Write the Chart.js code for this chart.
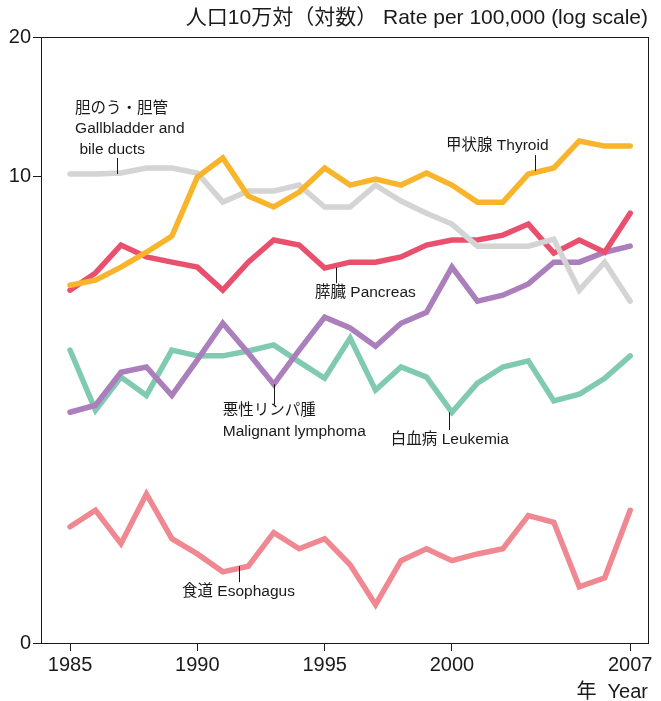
<!DOCTYPE html>
<html>
<head>
<meta charset="utf-8">
<script src="https://cdn.jsdelivr.net/npm/chart.js@4.4.0/dist/chart.umd.min.js"></script>
<style>
  body { margin: 0; background: #fff; }
  #wrap { width: 661px; height: 701px; }
</style>
</head>
<body>
<div id="wrap"><canvas id="myChart" width="661" height="701"></canvas></div>
<script>
// data
var years = [1985, 1986, 1987, 1988, 1989, 1990, 1991, 1992, 1993, 1994, 1995, 1996,
             1997, 1998, 1999, 2000, 2001, 2002, 2003, 2004, 2005, 2006, 2007];

var thyroid = [5.80, 5.95, 6.35, 6.84, 7.41, 9.95, 10.94, 9.05, 8.57, 9.23, 10.41, 9.56,
               9.85, 9.56, 10.15, 9.56, 8.78, 8.78, 10.10, 10.41, 11.91, 11.61, 11.61];
var gallbladder = [10.10, 10.10, 10.15, 10.41, 10.41, 10.15, 8.78, 9.28, 9.28, 9.56, 8.57, 8.57,
                   9.56, 8.83, 8.31, 7.87, 7.05, 7.05, 7.05, 7.30, 5.66, 6.51, 5.36];
var pancreas = [5.66, 6.17, 7.09, 6.68, 6.51, 6.35, 5.66, 6.51, 7.27, 7.09, 6.32, 6.51,
                6.51, 6.68, 7.09, 7.27, 7.27, 7.45, 7.87, 6.81, 7.27, 6.84, 8.31];
var lymphoma = [3.08, 3.19, 3.76, 3.86, 3.35, 4.00, 4.80, 4.14, 3.54, 4.20, 4.95, 4.69,
                4.28, 4.80, 5.07, 6.35, 5.36, 5.52, 5.84, 6.51, 6.51, 6.84, 7.05];
var leukemia = [4.20, 3.11, 3.67, 3.35, 4.20, 4.08, 4.08, 4.18, 4.31, 3.96, 3.65, 4.46,
                3.44, 3.86, 3.67, 3.08, 3.56, 3.86, 3.98, 3.26, 3.37, 3.65, 4.08];
var esophagus = [1.74, 1.89, 1.60, 2.05, 1.64, 1.52, 1.39, 1.43, 1.69, 1.56, 1.64, 1.44,
                 1.18, 1.47, 1.56, 1.47, 1.52, 1.56, 1.84, 1.78, 1.29, 1.35, 1.89];

var xTicks = [1985, 1990, 1995, 2000, 2007];
var yTicks = [0.975, 10, 20];
var yTickLabels = ["0", "10", "20"];

var FONT = "'Liberation Sans', Arial, 'Noto Sans CJK JP', sans-serif";
var INK = "#1a1a1a";

function points(values) {
    var out = [];
    for (var i = 0; i < years.length; i++) {
        out.push({ x: years[i], y: values[i] });
    }
    return out;
}

function series(values, color) {
    return {
        data: points(values),
        borderColor: color,
        borderWidth: 5.5,
        pointRadius: 0,
        tension: 0,
        fill: false,
        borderJoinStyle: 'miter',
        borderCapStyle: 'round'
    };
}

// labels with leader lines, in data units
var notes = [
    { x: 1985.2, y: 14.0, lines: ["胆のう・胆管", "Gallbladder and", " bile ducts"], align: 'left', lx: 1986.85, ly1: 10.94, ly2: 10.1 },
    { x: 2001.78, y: 11.61, lines: ["甲状腺 Thyroid"], align: 'center', lx: 2003.27, ly1: 11.1, ly2: 10.25 },
    { x: 1996.6, y: 5.58, lines: ["膵臓 Pancreas"], align: 'center', lx: 1995.45, ly1: 6.34, ly2: 5.86 },
    { x: 1991.0, y: 3.1, lines: ["悪性リンパ腫", "Malignant lymphoma"], align: 'left', lx: 1993.0, ly1: 3.54, ly2: 3.2 },
    { x: 1997.6, y: 2.68, lines: ["白血病 Leukemia"], align: 'left', lx: 1999.9, ly1: 3.08, ly2: 2.82 },
    { x: 1989.4, y: 1.256, lines: ["食道 Esophagus"], align: 'left', lx: 1991.65, ly1: 1.43, ly2: 1.32 }
];

var decor = {
    id: 'decor',
    afterDraw: function (chart) {
        var ctx = chart.ctx;
        var a = chart.chartArea;
        var xs = chart.scales.x;
        var ys = chart.scales.y;
        ctx.save();
        ctx.strokeStyle = INK;
        ctx.lineWidth = 1;
        ctx.strokeRect(a.left + 0.5, a.top + 0.5, a.right - a.left, a.bottom - a.top);

        ctx.fillStyle = INK;
        ctx.font = "15.5px " + FONT;
        ctx.textBaseline = 'middle';
        notes.forEach(function (n) {
            ctx.textAlign = n.align;
            var px = xs.getPixelForValue(n.x);
            var py = ys.getPixelForValue(n.y);
            n.lines.forEach(function (t, i) {
                ctx.fillText(t, px, py + i * 20.5);
            });
            var lx = Math.round(xs.getPixelForValue(n.lx)) + 0.5;
            ctx.beginPath();
            ctx.moveTo(lx, ys.getPixelForValue(n.ly1));
            ctx.lineTo(lx, ys.getPixelForValue(n.ly2));
            ctx.stroke();
        });

        // axis titles
        ctx.font = "21px " + FONT;
        ctx.textAlign = 'right';
        ctx.fillText("人口10万対（対数） Rate per 100,000 (log scale)", a.right, 18);
        ctx.font = "20px " + FONT;
        ctx.fillText("年  Year", a.right, 692);
        ctx.restore();
    }
};

new Chart("myChart", {
    type: "line",
    data: {
        datasets: [
            series(thyroid, "#f8b52c"),
            series(gallbladder, "#d4d4d4"),
            series(pancreas, "#e9506d"),
            series(lymphoma, "#ab7fbc"),
            series(leukemia, "#7fcab0"),
            series(esophagus, "#f08891")
        ]
    },
    options: {
        responsive: false,
        animation: false,
        layout: { padding: { top: 37, right: 13, left: 0, bottom: 0 } },
        plugins: {
            legend: { display: false },
            tooltip: { enabled: false }
        },
        scales: {
            x: {
                type: 'linear',
                min: 1983.86,
                max: 2007.7,
                afterBuildTicks: function (scale) {
                    scale.ticks = xTicks.map(function (v) { return { value: v }; });
                },
                afterFit: function (scale) { scale.height = 58; },
                grid: { display: true, drawOnChartArea: false, drawTicks: true, tickLength: 8, color: INK },
                border: { display: true, color: INK },
                ticks: {
                    color: INK,
                    padding: 2,
                    maxRotation: 0,
                    font: { family: FONT, size: 20 },
                    callback: function (v) { return String(v); }
                }
            },
            y: {
                type: 'logarithmic',
                min: 0.975,
                max: 20,
                afterBuildTicks: function (scale) {
                    scale.ticks = yTicks.map(function (v) { return { value: v }; });
                },
                afterFit: function (scale) { scale.width = 41; },
                grid: { display: true, drawOnChartArea: false, drawTicks: true, tickLength: 8, color: INK },
                border: { display: true, color: INK },
                ticks: {
                    color: INK,
                    padding: 2,
                    font: { family: FONT, size: 20 },
                    callback: function (v) {
                        var i = yTicks.indexOf(v);
                        return i >= 0 ? yTickLabels[i] : "";
                    }
                }
            }
        }
    },
    plugins: [decor]
});
</script>
</body>
</html>
